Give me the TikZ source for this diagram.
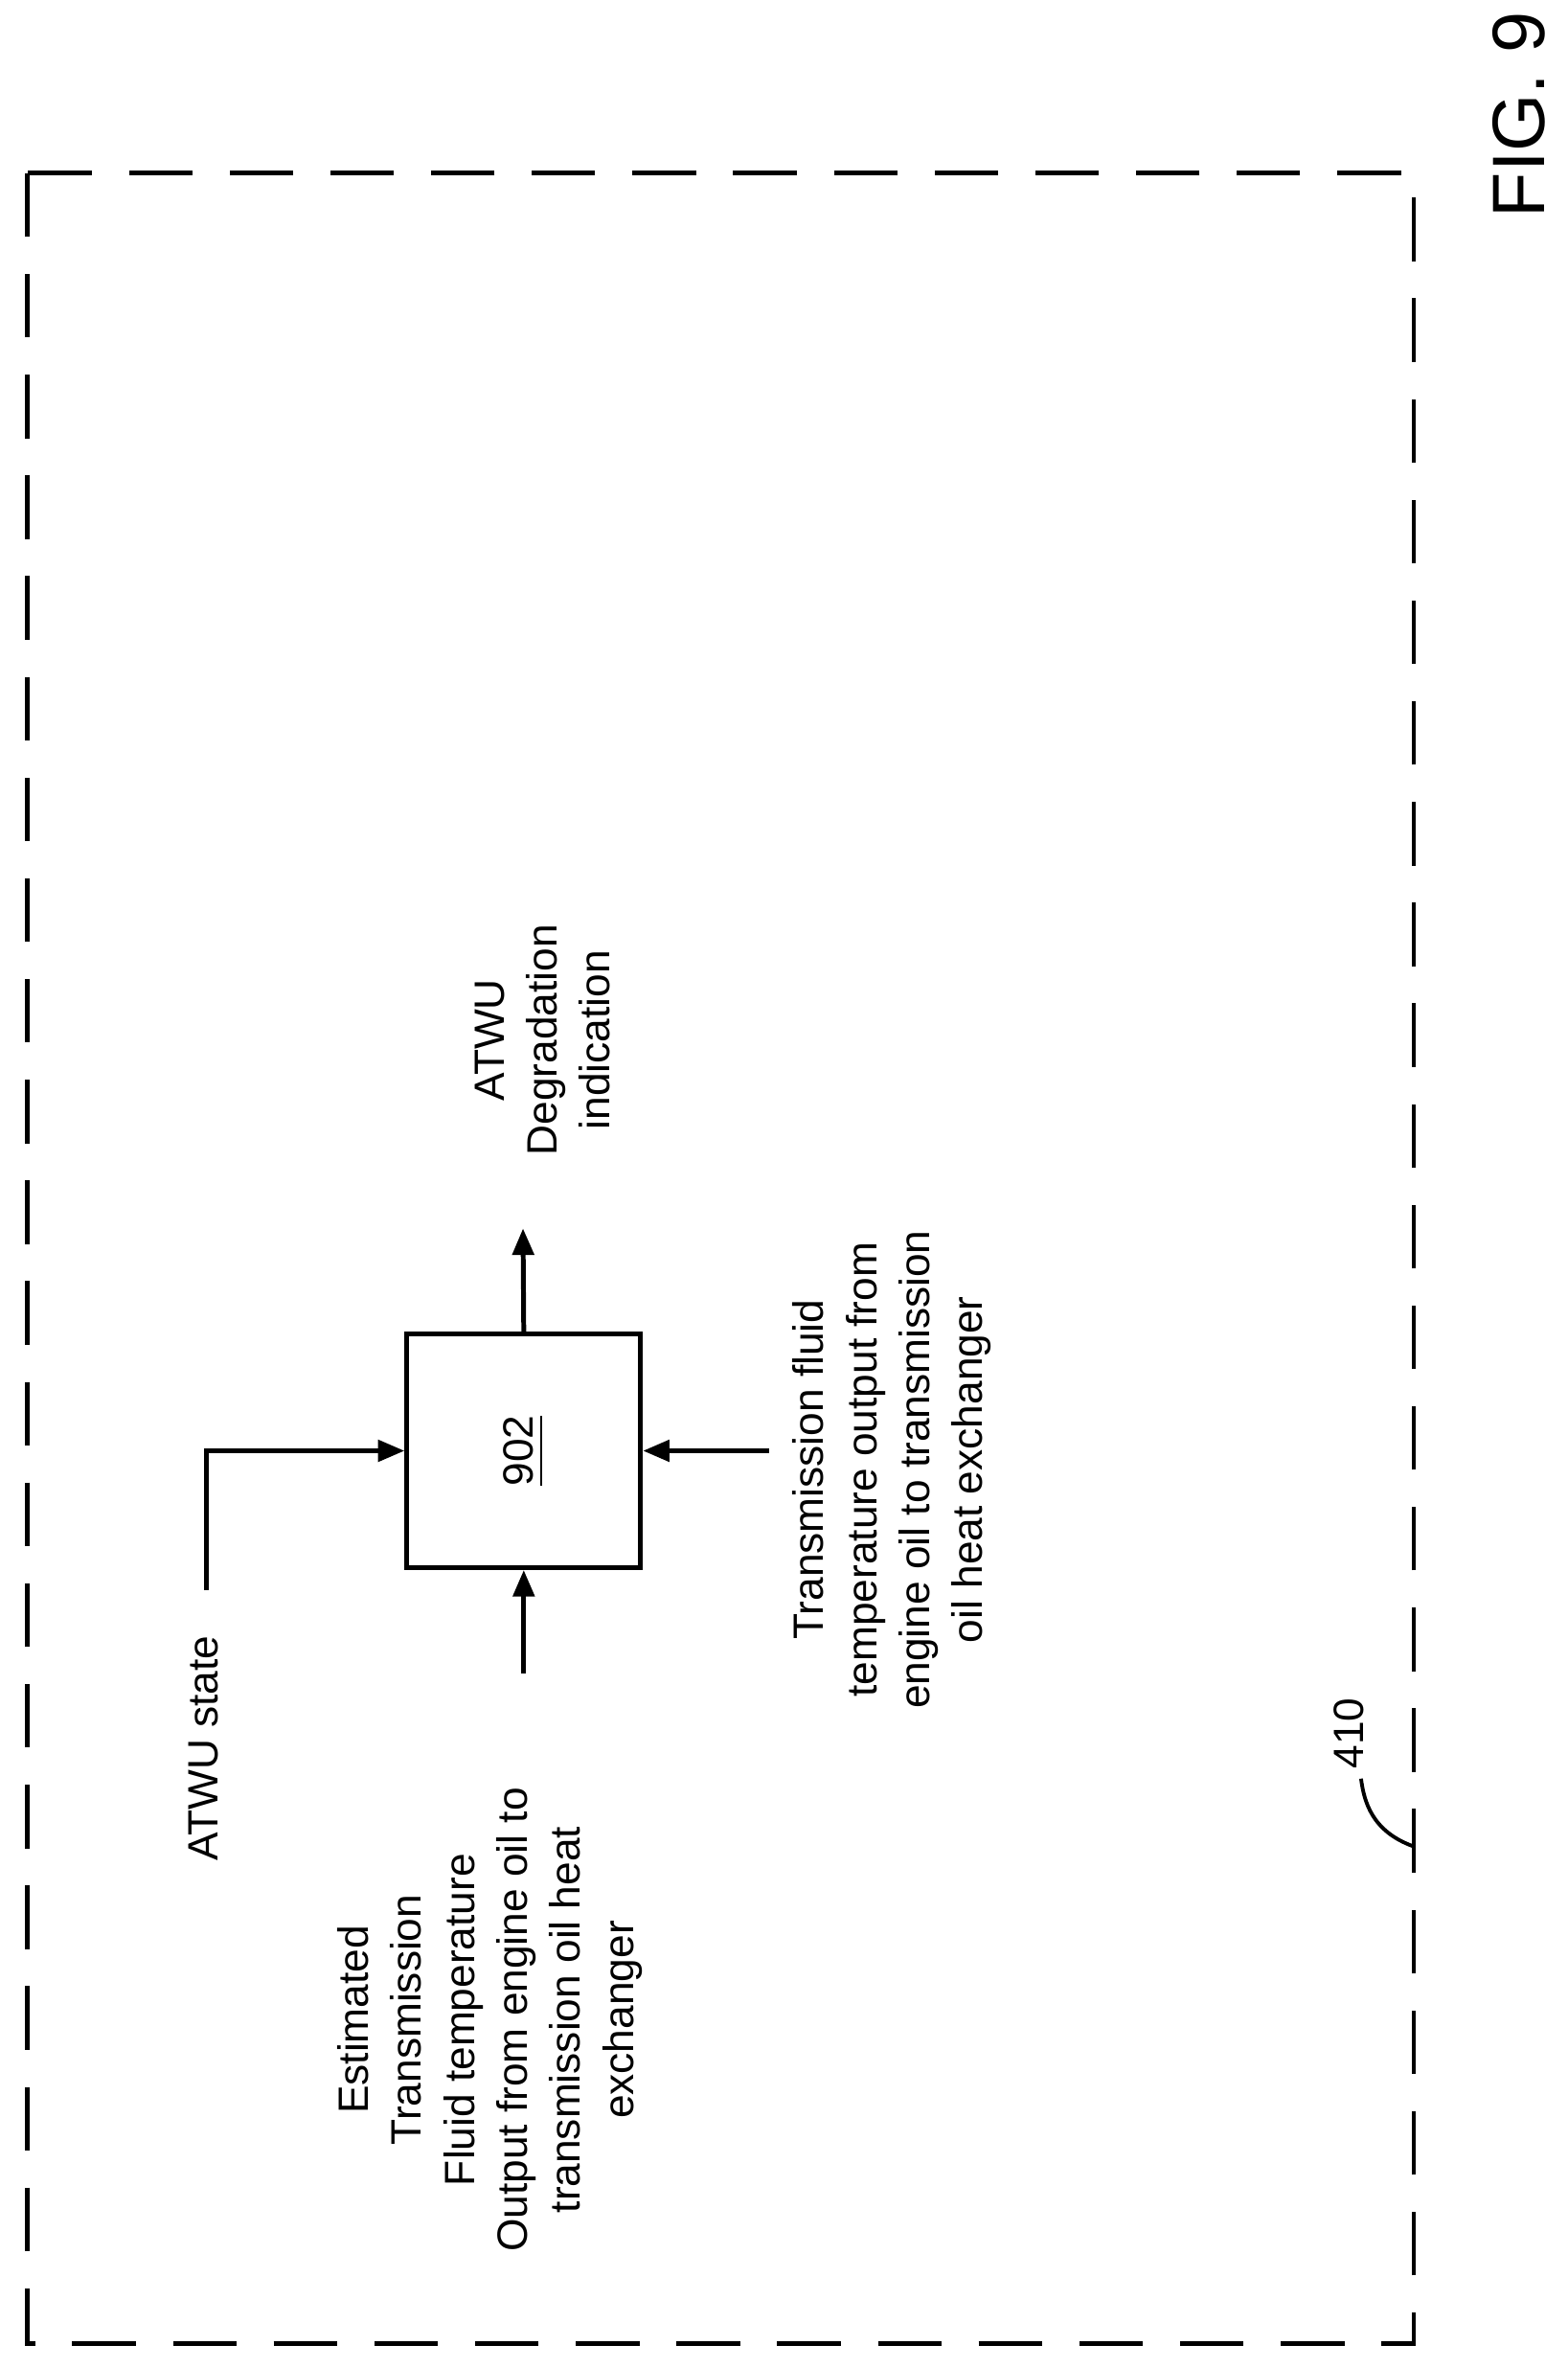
\documentclass[tikz,border=0pt]{standalone}
\usepackage{fontspec}
\setmainfont{Liberation Sans}
\usetikzlibrary{arrows.meta,positioning}
\begin{document}
\begin{tikzpicture}[x=0.01cm,y=-0.01cm,
    line width=0.9pt,
    block/.style={draw, minimum width=1.55cm, minimum height=1.55cm},
    label/.style={rotate=90, align=center, font=\fontsize{8}{10}\selectfont},
    arr/.style={-{Triangle[length=5pt,width=4pt]}}]
  % page frame
  \useasboundingbox (0,0) rectangle (1040,1571);
  \draw[dash pattern=on 12pt off 7pt] (18,115) rectangle (938,1555);
  \node[rotate=90, font=\fontsize{14}{16}\selectfont] (fig) at (1008,76) {FIG. 9};

  % block
  \node[block] (blk) at (347.5,962.5) {};
  \node[rotate=90, font=\fontsize{8}{10}\selectfont] (num) at (blk.center) {\underline{902}};

  % inputs and output
  \coordinate (outend) at (347,815);
  \draw[arr] (blk.north) -- (outend);
  \node[label] (outtxt) at (360,690) {ATWU\\Degradation\\indication};

  \coordinate (statestart) at (137,1055);
  \coordinate (statebend) at (137,962.5);
  \draw[arr] (statestart) -- (statebend) -- (blk.west);
  \node[label] (statetxt) at (135,1160) {ATWU state};

  \coordinate (estart) at (347.5,1110);
  \draw[arr] (estart) -- (blk.south);
  \node[label] (etxt) at (325,1340) {Estimated\\Transmission\\Fluid temperature\\Output from engine oil to\\transmission oil heat\\exchanger};

  \coordinate (tstart) at (510,962.5);
  \draw[arr] (tstart) -- (blk.east);
  \node[label] (ttxt) at (592,975) {Transmission fluid\\temperature output from\\engine oil to transmission\\oil heat exchanger};

  % reference numeral
  \coordinate (refend) at (938,1225);
  \draw[line width=0.7pt] (refend) .. controls (910,1215) and (905,1195) .. (903,1180);
  \node[label] (reftxt) at (895,1150) {410};
\end{tikzpicture}
\end{document}
